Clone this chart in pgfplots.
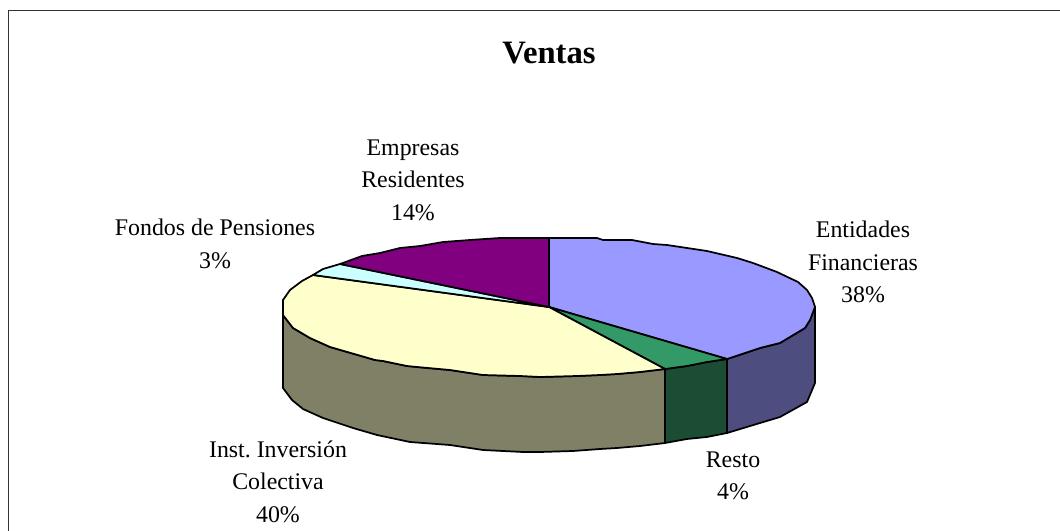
\documentclass[border=0pt]{standalone}
\usepackage{pgfplots}
\pgfplotsset{compat=1.18}
\usepackage{fontspec}
\setmainfont{Liberation Serif}
\definecolor{entTop}{HTML}{9999FF}
\definecolor{entSide}{HTML}{4D4D80}
\definecolor{resTop}{HTML}{339966}
\definecolor{resSide}{HTML}{1A4D33}
\definecolor{insTop}{HTML}{FFFFCC}
\definecolor{insSide}{HTML}{808066}
\definecolor{fonTop}{HTML}{CCFFFF}
\definecolor{empTop}{HTML}{800080}
\newcommand{\lab}[3]{\node[anchor=base,inner sep=0pt,font=\fontsize{17.9pt}{20pt}\selectfont] at (axis cs:#1,#2) {#3};}
\begin{document}
\begin{tikzpicture}
\begin{axis}[
    scale only axis,
    width=795pt,
    height=398.25pt,
    xmin=0, xmax=1060,
    ymin=0, ymax=531,
    y dir=reverse,
    hide axis,
    every axis plot/.append style={line width=1.3pt, line join=round, draw=black, mark=none},
  ]

  % keeps the page as large as the whole axis
  \addplot[draw=none, line width=0pt] coordinates {(0,0) (1060,531)};

  % chart frame, open on the right and at the bottom
  \addplot[line width=1.2pt, draw=black!80, line join=miter] coordinates {(8.5,531) (8.5,10.5) (1060,10.5)};

  % sides of the disc
  \addplot[fill=entSide] coordinates {
    (727,359) (760,348) (780,343) (805,328) (810,320) (815,307)
    (815,383) (807,402) (780,417) (760,423) (727,433) (727,359)};
  \addplot[fill=resSide] coordinates {
    (665,369) (687,366) (707,362) (727,359)
    (727,433) (707,437) (687,439) (665,443) (665,369)};
  \addplot[fill=insSide] coordinates {
    (283,315) (293,328) (310,338) (330,347) (337,349) (375,360) (383,361)
    (407,366) (417,367) (450,370) (483,375) (520,376) (540,377) (577,376)
    (600,375) (617,374) (640,372) (665,369)
    (665,443) (640,446) (617,448) (600,449) (573,451) (540,452) (523,452)
    (483,450) (450,445) (410,442) (377,435) (353,428) (323,418) (303,409)
    (292,400) (283,388) (283,315)};

  % top wedges: Entidades 38, Resto 4, Inst. 40, Fondos 3, Empresas 14
  \addplot[fill=entTop] coordinates {
    (549,307) (549,238) (597,238) (603,240) (632,240) (653,244) (667,245)
    (687,248) (707,251) (737,258) (753,263) (777,272) (798,282) (807,290)
    (812,298) (815,307) (810,320) (805,328) (780,343) (760,348) (727,359)
    (549,307)};
  \addplot[fill=resTop] coordinates {
    (549,307) (727,359) (707,362) (687,366) (665,369) (549,307)};
  \addplot[fill=insTop] coordinates {
    (549,307) (665,369) (640,372) (617,374) (600,375) (577,376) (540,377)
    (520,376) (483,375) (450,370) (417,367) (407,366) (383,361) (375,360)
    (337,349) (330,347) (310,338) (293,328) (283,315) (283,300) (290,290)
    (302,281) (313,275) (549,307)};
  \addplot[fill=fonTop] coordinates {
    (549,307) (313,275) (323,269) (340,264) (549,307)};
  \addplot[fill=empTop] coordinates {
    (549,307) (340,264) (362,256) (380,253) (400,248) (420,246) (443,242)
    (470,240) (500,238) (549,238) (549,307)};

  \node[anchor=base,inner sep=0pt,font=\fontsize{24.5pt}{28pt}\selectfont\bfseries] at (axis cs:549,64) {Ventas};
  \lab{413}{155.5}{Empresas}
  \lab{413}{188}{Residentes}
  \lab{413}{220.5}{14\%}
  \lab{215}{235}{Fondos de Pensiones}
  \lab{215}{268}{3\%}
  \lab{863}{237.5}{Entidades}
  \lab{863}{270}{Financieras}
  \lab{863}{302.5}{38\%}
  \lab{733}{467}{Resto}
  \lab{733}{499}{4\%}
  \lab{278}{457}{Inst.\ Inversión}
  \lab{278}{489.5}{Colectiva}
  \lab{278}{522}{40\%}

\end{axis}
\end{tikzpicture}
\end{document}
